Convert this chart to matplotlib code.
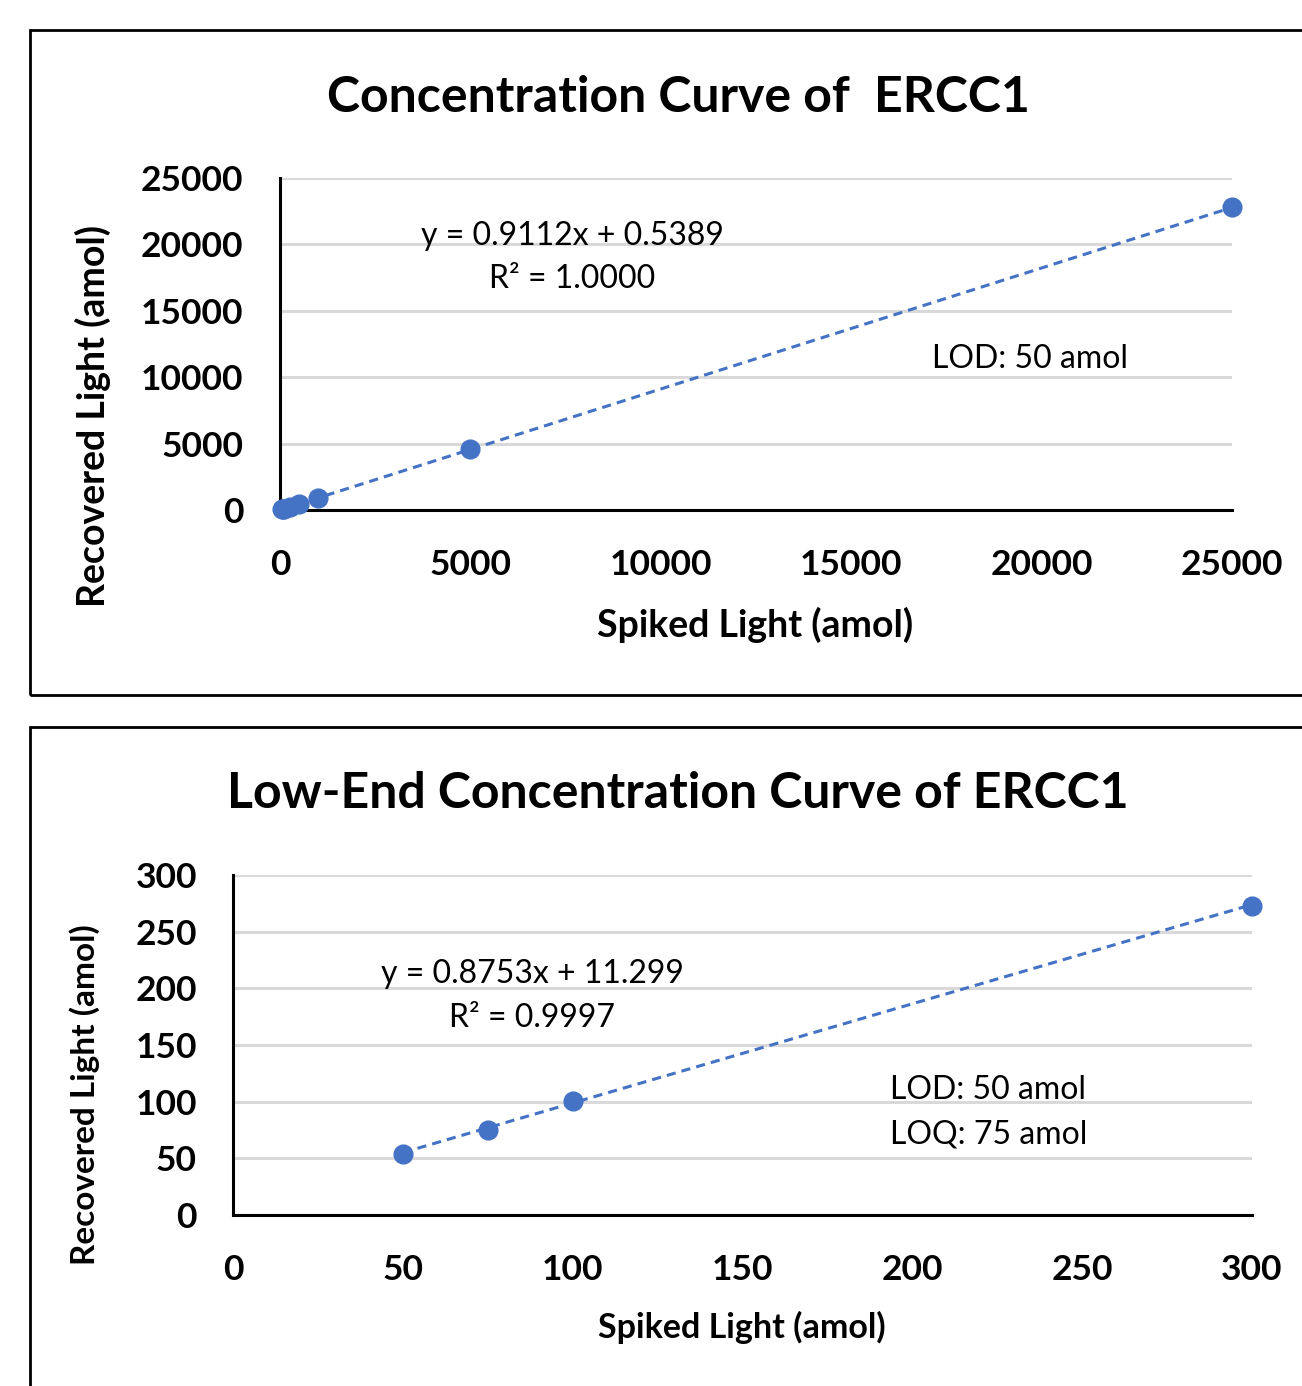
import matplotlib
matplotlib.use("Agg")
import matplotlib.pyplot as plt
from matplotlib.patches import Rectangle

# 数据
spiked_full = [50, 75, 100, 250, 500, 1000, 5000, 25000]
recovered_full = [46, 69, 92, 228, 456, 912, 4556, 22780]
slope_full, icpt_full = 0.9112, 0.5389

spiked_low = [50, 75, 100, 300]
recovered_low = [54, 75, 101, 273]
slope_low, icpt_low = 0.8753, 11.299

W, H = 1302, 1386
BLUE = "#4472C4"
FONT = ["Lato", "DejaVu Sans"]
plt.rcParams["font.family"] = FONT

fig = plt.figure(figsize=(W / 100, H / 100), dpi=100)


def px(x, y):
    """像素 -> figure 坐标"""
    return x / W, 1 - y / H


def add_ax(l, t, r, b):
    x0, y1 = px(l, t)
    x1, y0 = px(r, b)
    return fig.add_axes([x0, y0, x1 - x0, y1 - y0])


def style_ax(ax, xticks, yticks, fs_tick, pad_x, pad_y):
    ax.set_xticks(xticks)
    ax.set_yticks(yticks)
    ax.set_xlim(xticks[0], xticks[-1])
    ax.set_ylim(yticks[0], yticks[-1])
    for s in ["top", "right"]:
        ax.spines[s].set_visible(False)
    for s in ["left", "bottom"]:
        ax.spines[s].set_linewidth(2.2)
        ax.spines[s].set_color("black")
    ax.grid(axis="y", color="#d9d9d9", linewidth=2.2)
    ax.set_axisbelow(True)
    ax.tick_params(length=0, labelsize=fs_tick)
    ax.tick_params(axis="x", pad=pad_x)
    ax.tick_params(axis="y", pad=pad_y)
    for lb in ax.get_xticklabels() + ax.get_yticklabels():
        lb.set_fontweight("bold")


def draw_series(ax, xs, ys, k, b):
    lx = [min(xs), max(xs)]
    ax.plot(lx, [k * v + b for v in lx], color=BLUE, linestyle=(0, (3, 2)),
            linewidth=2.2, zorder=3)
    ax.plot(xs, ys, "o", color=BLUE, markersize=13.5, zorder=4, clip_on=False)


# 外框
fig.patches.append(Rectangle(px(30, 695), (W + 10 - 30) / W, (695 - 30) / H,
                             transform=fig.transFigure, fill=False,
                             edgecolor="black", linewidth=2))
fig.patches.append(Rectangle(px(30, H + 10), (W + 10 - 30) / W, (H + 10 - 727) / H,
                             transform=fig.transFigure, fill=False,
                             edgecolor="black", linewidth=2))

# 上图
ax1 = add_ax(280, 178, 1232, 510)
draw_series(ax1, spiked_full, recovered_full, slope_full, icpt_full)
style_ax(ax1, [0, 5000, 10000, 15000, 20000, 25000],
         [0, 5000, 10000, 15000, 20000, 25000], 25.5, 28, 26.5)
fig.text(*px(678, 97), "Concentration Curve of  ERCC1", ha="center",
         va="center", fontsize=36, fontweight="bold")
fig.text(*px(755, 625), "Spiked Light (amol)", ha="center", va="center",
         fontsize=27, fontweight="bold")
fig.text(*px(93, 416), "Recovered Light (amol)", ha="center", va="center",
         rotation=90, fontsize=27, fontweight="bold")
fig.text(*px(572, 236), f"y = {slope_full:.4f}x + {icpt_full:.4f}",
         ha="center", va="center", fontsize=23)
fig.text(*px(572, 279), "R² = 1.0000", ha="center", va="center", fontsize=23)
fig.text(*px(932, 359), "LOD: 50 amol", ha="left", va="center", fontsize=23)

# 下图
ax2 = add_ax(233, 875, 1252, 1215)
draw_series(ax2, spiked_low, recovered_low, slope_low, icpt_low)
style_ax(ax2, [0, 50, 100, 150, 200, 250, 300],
         [0, 50, 100, 150, 200, 250, 300], 25.5, 28, 26)
fig.text(*px(678, 793), "Low-End Concentration Curve of ERCC1", ha="center",
         va="center", fontsize=36, fontweight="bold")
fig.text(*px(742, 1327), "Spiked Light (amol)", ha="center", va="center",
         fontsize=24.5, fontweight="bold")
fig.text(*px(85, 1095), "Recovered Light (amol)", ha="center", va="center",
         rotation=90, fontsize=24, fontweight="bold")
fig.text(*px(532, 974), f"y = {slope_low:.4f}x + {icpt_low:.3f}",
         ha="center", va="center", fontsize=23)
fig.text(*px(532, 1018), "R² = 0.9997", ha="center", va="center", fontsize=23)
fig.text(*px(890, 1090), "LOD: 50 amol", ha="left", va="center", fontsize=23)
fig.text(*px(890, 1134), "LOQ: 75 amol", ha="left", va="center", fontsize=23)

fig.savefig("out.png", dpi=100, facecolor="white")
